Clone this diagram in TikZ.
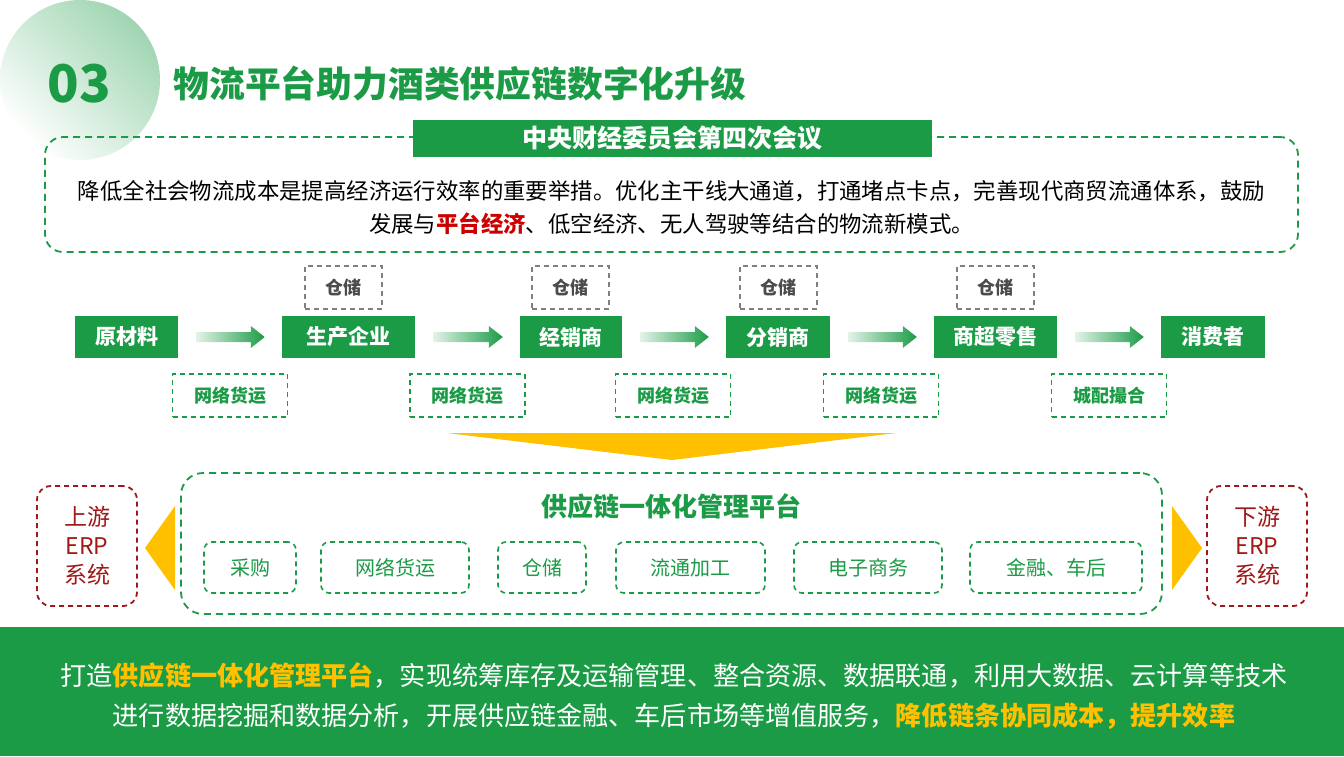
\documentclass[tikz,border=0pt]{standalone}
\usepackage{fontspec}
\setmainfont{Noto Sans CJK SC}
\usetikzlibrary{calc}
\definecolor{g}{HTML}{1B9B46}
\definecolor{yel}{HTML}{FFC000}
\definecolor{dred}{HTML}{A01818}
\definecolor{gry}{HTML}{7F7F7F}
\tikzset{
 flow/.style={fill=g,text=white,font=\fontsize{21}{24}\selectfont\bfseries,minimum height=42pt,inner sep=0},
 store/.style={draw=gry,dashed,line width=1.6pt,dash pattern=on 5pt off 4pt,text=gry!60!black,font=\fontsize{18}{20}\selectfont\bfseries,minimum width=77pt,minimum height=43pt,inner sep=0},
 ship/.style={draw=g,line width=1.6pt,dash pattern=on 5pt off 4pt,text=g,font=\fontsize{18}{20}\selectfont\bfseries,minimum width=115pt,minimum height=43pt,inner sep=0},
 mod/.style={draw=g,line width=1.6pt,dash pattern=on 5pt off 4pt,rounded corners=8pt,text=g,font=\fontsize{20}{22}\selectfont,minimum height=51pt,inner sep=0},
 erp/.style={draw=dred,line width=1.8pt,dash pattern=on 5pt off 4pt,rounded corners=14pt,text=dred,font=\fontsize{23}{29}\selectfont,align=center,minimum width=100pt,minimum height=120pt,inner sep=0},
}
\newcommand\flowarr[2]{\shade[left color=g!12,right color=g] ($(#1.east)+(18,-5)$) -- ($(#2.west)+(-31,-5)$) -- ($(#2.west)+(-31,-11)$) -- ($(#2.west)+(-17,0)$) -- ($(#2.west)+(-31,11)$) -- ($(#2.west)+(-31,5)$) -- ($(#1.east)+(18,5)$) -- cycle;}
\begin{document}
\begin{tikzpicture}[x=1pt,y=-1pt]
\useasboundingbox (0,0) rectangle (1344,756);
\fill[white] (0,0) rectangle (1344,756);
\shade[left color=g!42,right color=white,shading angle=-45] (80,80) circle (80);
\node[text=g,font=\fontsize{52}{52}\selectfont\bfseries,anchor=west] (num) at (44,84) {03};
\node[text=g,font=\fontsize{35.8}{38}\selectfont\bfseries,anchor=west] (title) at (170,84) {物流平台助力酒类供应链数字化升级};
% top box
\node[draw=g,line width=1.8pt,dash pattern=on 7pt off 5pt,rounded corners=18pt,minimum width=1253pt,minimum height=115pt,inner sep=0] (topbox) at (671.5,194.5) {};
\node[fill=g,text=white,font=\fontsize{25}{27}\selectfont\bfseries,minimum width=519pt,minimum height=37pt,inner sep=0] (hdr) at (672.5,138.5) {中央财经委员会第四次会议};
\node[font=\fontsize{22.4}{33}\selectfont,align=center] (txt) at (671.5,208) {降低全社会物流成本是提高经济运行效率的重要举措。优化主干线大通道，打通堵点卡点，完善现代商贸流通体系，鼓励\\发展与{\bfseries\color{red!80!black}平台经济}、低空经济、无人驾驶等结合的物流新模式。};
% flow
\node[flow,minimum width=103pt] (f1) at (126.5,337) {原材料};
\node[flow,minimum width=133pt] (f2) at (348.5,337) {生产企业};
\node[flow,minimum width=102pt] (f3) at (571,337) {经销商};
\node[flow,minimum width=104pt] (f4) at (778,337) {分销商};
\node[flow,minimum width=123pt] (f5) at (995.5,337) {商超零售};
\node[flow,minimum width=104pt] (f6) at (1213,337) {消费者};
\flowarr{f1}{f2}\flowarr{f2}{f3}\flowarr{f3}{f4}\flowarr{f4}{f5}\flowarr{f5}{f6}
\node[store] (s1) at (343.5,287.5) {仓储};
\node[store] (s2) at (570.5,287.5) {仓储};
\node[store] (s3) at (778.5,287.5) {仓储};
\node[store] (s4) at (995.5,287.5) {仓储};
\node[ship] (w1) at (230,395.5) {网络货运};
\node[ship] (w2) at (467.5,395.5) {网络货运};
\node[ship] (w3) at (673,395.5) {网络货运};
\node[ship] (w4) at (881,395.5) {网络货运};
\node[ship] (w5) at (1109,395.5) {城配撮合};
\fill[yel] (447,433) -- (896,433) -- (672,460) -- cycle;
% platform
\node[draw=g,line width=1.8pt,dash pattern=on 7pt off 5pt,rounded corners=22pt,minimum width=981pt,minimum height=141pt,inner sep=0] (plat) at (671.5,543.5) {};
\node[text=g,font=\fontsize{26}{28}\selectfont\bfseries] (ptitle) at (671.5,506) {供应链一体化管理平台};
\node[mod,minimum width=92pt] (m1) at (250,567.5) {采购};
\node[mod,minimum width=148pt] (m2) at (395,567.5) {网络货运};
\node[mod,minimum width=88pt] (m3) at (542,567.5) {仓储};
\node[mod,minimum width=149pt] (m4) at (690.5,567.5) {流通加工};
\node[mod,minimum width=148pt] (m5) at (868,567.5) {电子商务};
\node[mod,minimum width=172pt] (m6) at (1056,567.5) {金融、车后};
\node[erp] (e1) at (87,546) {上游\\ERP\\系统};
\node[erp] (e2) at (1257,546) {下游\\ERP\\系统};
\fill[yel] (175,506) -- (175,590) -- (145,548) -- cycle;
\fill[yel] (1172,506) -- (1172,590) -- (1202,548) -- cycle;
% bottom band
\fill[g] (0,627) rectangle (1344,756);
\node[text=white,font=\fontsize{26.1}{40}\selectfont,align=center] (bot) at (674,696) {打造{\bfseries\color{yel}供应链一体化管理平台}，实现统筹库存及运输管理、整合资源、数据联通，利用大数据、云计算等技术\\进行数据挖掘和数据分析，开展供应链金融、车后市场等增值服务，{\bfseries\color{yel}降低链条协同成本，提升效率}};
\end{tikzpicture}
\end{document}
